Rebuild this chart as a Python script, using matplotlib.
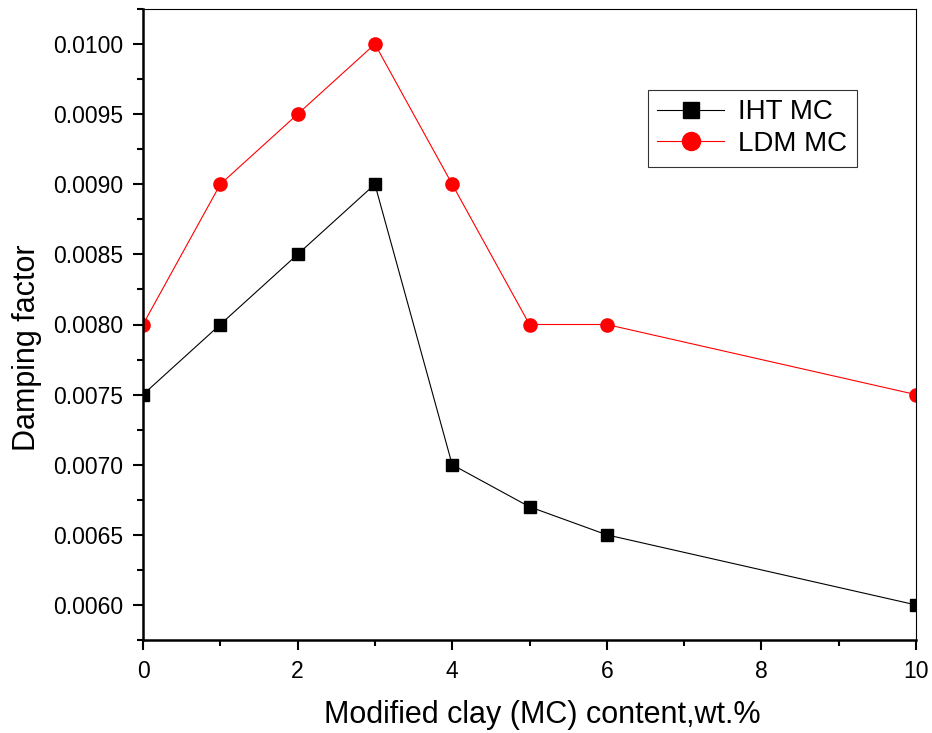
import matplotlib.pyplot as plt
from matplotlib.ticker import MultipleLocator, FormatStrFormatter

plt.rcParams['font.family'] = ['Liberation Sans', 'DejaVu Sans']

# Dados
mc_content = [0, 1, 2, 3, 4, 5, 6, 10]
iht_mc = [0.0075, 0.0080, 0.0085, 0.0090, 0.0070, 0.0067, 0.0065, 0.0060]
ldm_mc = [0.0080, 0.0090, 0.0095, 0.0100, 0.0090, 0.0080, 0.0080, 0.0075]

fig = plt.figure(figsize=(9.32, 7.33), dpi=100)
ax = fig.add_axes([143 / 932, 93 / 733, 773 / 932, 631 / 733])

ax.plot(mc_content, iht_mc, color="black", linewidth=0.8, marker="s",
        markersize=8.5, label="IHT MC")
ax.plot(mc_content, ldm_mc, color="red", linewidth=0.8, marker="o",
        markersize=9.5, label="LDM MC")

ax.set_xlim(0, 10)
ax.set_ylim(0.00575, 0.01025)

ax.xaxis.set_major_locator(MultipleLocator(2))
ax.xaxis.set_minor_locator(MultipleLocator(1))
ax.yaxis.set_major_locator(MultipleLocator(0.0005))
ax.yaxis.set_minor_locator(MultipleLocator(0.00025))
ax.yaxis.set_major_formatter(FormatStrFormatter("%.4f"))

ax.tick_params(which="major", direction="out", length=7.5, width=1.5,
               labelsize=16.5, pad=7)
ax.tick_params(which="minor", direction="out", length=4.5, width=1.5)

for side in ["left", "bottom"]:
    ax.spines[side].set_linewidth(1.8)
for side in ["top", "right"]:
    ax.spines[side].set_linewidth(0.8)

ax.set_xlabel("Modified clay (MC) content,wt.%", fontsize=22, labelpad=12)
ax.set_ylabel("Damping factor", fontsize=22, labelpad=8)
# rótulos um pouco deslocados como no original
ax.xaxis.label.set_x(0.517)
ax.yaxis.label.set_y(0.464)

leg = ax.legend(loc="upper left", bbox_to_anchor=(0.653, 0.872), fontsize=20,
                frameon=True, fancybox=False, edgecolor="black",
                handlelength=2.4, handletextpad=0.5, borderpad=0.35,
                labelspacing=0.2, borderaxespad=0)
leg.get_frame().set_linewidth(0.8)
leg.legend_handles[0].set_markersize(11)
leg.legend_handles[1].set_markersize(13)

plt.savefig("out.png", dpi=100)
